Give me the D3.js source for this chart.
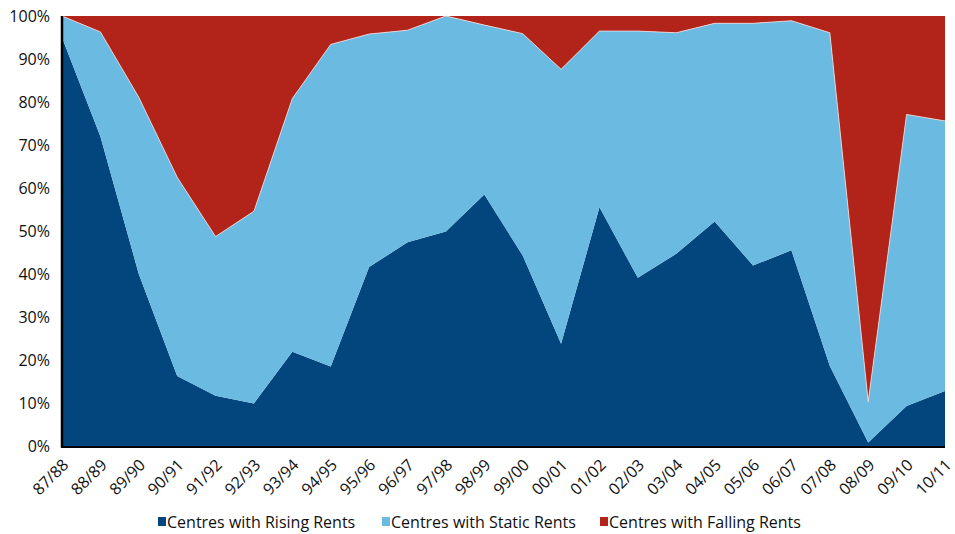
<!DOCTYPE html>
<html>
<head>
<meta charset="utf-8">
<script src="https://cdn.jsdelivr.net/npm/d3@7/dist/d3.min.js"></script>
<style>
  html, body { margin: 0; padding: 0; background: #fff; }
  svg text { font-family: "Open Sans", "Lato", sans-serif; fill: #111; }
</style>
</head>
<body>
<svg id="chart" width="955" height="534"></svg>
<script>
// Financial years
const years = ["87/88","88/89","89/90","90/91","91/92","92/93","93/94","94/95","95/96","96/97",
  "97/98","98/99","99/00","00/01","01/02","02/03","03/04","04/05","05/06","06/07",
  "07/08","08/09","09/10","10/11"];

// Share of centres (%) by rent movement
const rising  = [95, 72, 40, 16.3, 11.7, 9.9, 21.9, 18.5, 41.6, 47.4, 49.9, 58.5, 44.3, 23.8, 55.5, 39.1, 44.7, 52.2, 42.0, 45.5, 18.6, 0.8, 9.3, 12.8];
const statik  = [5, 24.3, 41.1, 46.2, 37.0, 44.7, 58.9, 74.9, 54.2, 49.3, 50.1, 39.4, 51.6, 63.8, 41.0, 57.4, 51.4, 46.1, 56.3, 53.4, 77.5, 9.5, 67.8, 62.8];
const falling = [0, 3.7, 18.9, 37.5, 51.3, 45.4, 19.2, 6.6, 4.2, 3.3, 0, 2.1, 4.1, 12.4, 3.5, 3.5, 3.9, 1.7, 1.7, 1.1, 3.9, 89.7, 22.9, 24.4];

const yTicks = [0, 10, 20, 30, 40, 50, 60, 70, 80, 90, 100];

const seriesNames = ["Centres with Rising Rents", "Centres with Static Rents", "Centres with Falling Rents"];
const colors = ["#02467D", "#6BBAE2", "#B22319"];

const svg = d3.select("#chart");
const margin = { left: 62, right: 10, top: 16, bottom: 88 };
const W = 955, H = 534;
const FS = 16;

const x = d3.scalePoint().domain(years).range([margin.left, W - margin.right]);
const y = d3.scaleLinear().domain([0, 100]).range([H - margin.bottom, margin.top]);

const rows = years.map((yr, i) => ({ year: yr, rising: rising[i], statik: statik[i], falling: falling[i] }));
const stack = d3.stack().keys(["rising", "statik", "falling"]);
const layers = stack(rows);

const area = d3.area()
  .x(d => x(d.data.year))
  .y0(d => y(d[0]))
  .y1(d => y(Math.min(100, d[1])));

// Falling layer fills everything up to 100%
const g = svg.append("g");
g.selectAll("path.layer")
  .data(layers)
  .join("path")
  .attr("class", "layer")
  .attr("fill", (d, i) => colors[i])
  .attr("d", (d, i) => i === 2
    ? d3.area().x(p => x(p.data.year)).y0(p => y(p[0])).y1(y(100))(d)
    : area(d));

// Thin light seam along the top of the static band
g.append("path")
  .attr("fill", "none")
  .attr("stroke", "#f3e6e6")
  .attr("stroke-width", 0.8)
  .attr("d", d3.line().x(p => x(p.data.year)).y(p => y(Math.min(100, p[1])))(layers[1]));

// Axes
const yAxis = d3.axisLeft(y).tickValues(yTicks).tickSize(0).tickPadding(12).tickFormat(d => d + "%");
const ya = svg.append("g").attr("transform", `translate(${margin.left},0)`).call(yAxis);
ya.select(".domain").remove();
ya.selectAll("text").attr("font-size", FS).attr("font-weight", 500).attr("dy", "0.35em");

const xAxis = d3.axisBottom(x).tickSize(0);
const xa = svg.append("g").attr("transform", `translate(0,${y(0)})`).call(xAxis);
xa.select(".domain").remove();
xa.selectAll("text")
  .attr("font-size", FS).attr("font-weight", 500)
  .attr("text-anchor", "end")
  .attr("x", 0).attr("y", 0)
  .attr("dy", "0.35em")
  .attr("transform", "translate(3,16) rotate(-45)");

svg.append("line")
  .attr("x1", margin.left).attr("x2", margin.left)
  .attr("y1", y(100)).attr("y2", y(0) + 1.5)
  .attr("stroke", "#000").attr("stroke-width", 2.5);
svg.append("line")
  .attr("x1", margin.left - 1).attr("x2", W - margin.right)
  .attr("y1", y(0) + 1).attr("y2", y(0) + 1)
  .attr("stroke", "#000").attr("stroke-width", 2);

// Legend
const legendX = [158, 382, 600];
const lg = svg.append("g").attr("transform", "translate(0,522)");
seriesNames.forEach((name, i) => {
  lg.append("rect").attr("x", legendX[i]).attr("y", -5).attr("width", 8).attr("height", 9).attr("fill", colors[i]);
  lg.append("text").attr("x", legendX[i] + 9).attr("y", 0).attr("dy", "0.35em")
    .attr("font-size", FS).attr("font-weight", 500).text(name);
});
</script>
</body>
</html>
